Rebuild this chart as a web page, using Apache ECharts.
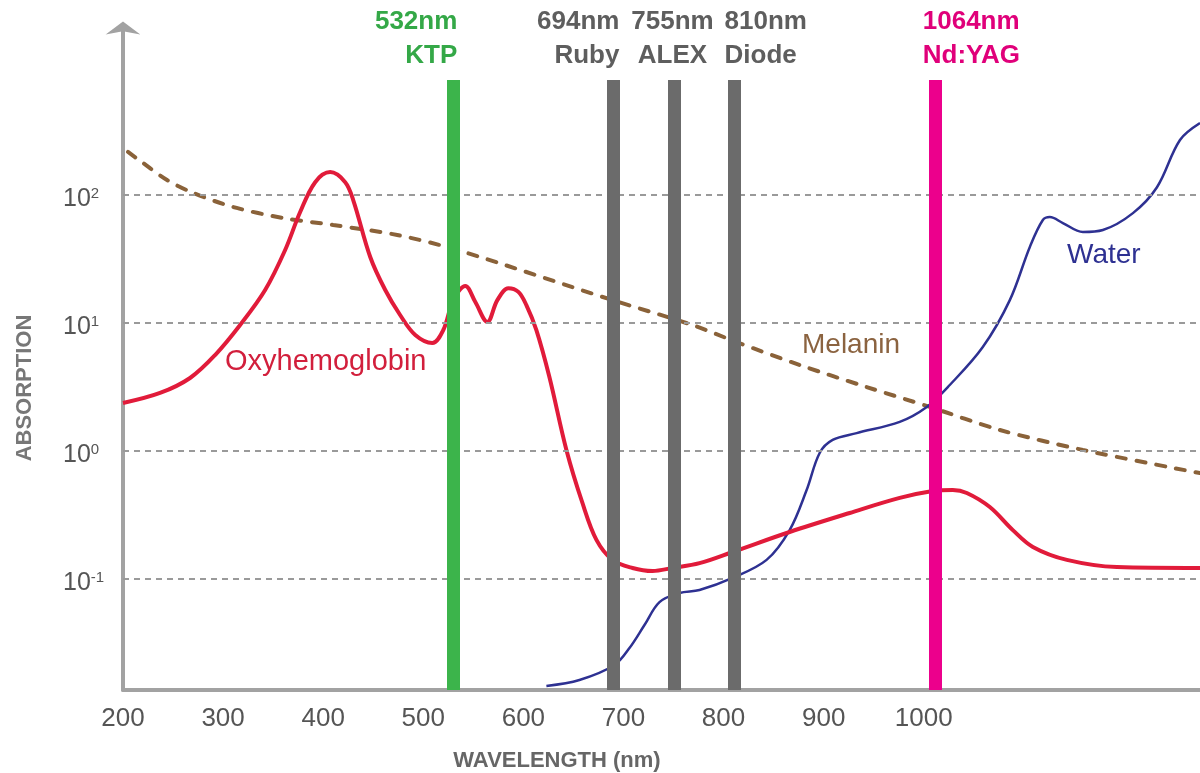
<!DOCTYPE html>
<html><head><meta charset="utf-8">
<script src="https://cdn.jsdelivr.net/npm/echarts@6/dist/echarts.min.js"></script>
<style>html,body{margin:0;padding:0;background:#fff}#c{width:1200px;height:773px}</style>
</head><body><div id="c"></div>
<script>
// ---- data ----
const oxyNm  = [200,237,267,292,317,342,362,377,392,407,422,430,447,462,477,492,509,520,530,542,552,564,574,585,595,603,613,626,643,659,673,689,709,729,749,776,809,866,926,976,1009,1029,1043,1066,1089,1109,1143,1193,1276];
const oxyAbs = [2.37,2.84,3.72,5.62,9.65,18.1,37.2,73.6,126,151,126,91.4,32.8,18.1,11.5,8.06,6.98,8.82,15.1,19.5,14.6,10.2,15.1,18.7,17.5,13.8,8.8,3.79,1.02,0.393,0.202,0.141,0.122,0.1155,0.122,0.133,0.1626,0.233,0.328,0.43,0.487,0.496,0.47,0.365,0.241,0.178,0.141,0.124,0.122];
const waterNm  = [623,656,691,706,721,736,756,776,809,843,866,883,896,909,933,976,1003,1026,1059,1086,1106,1119,1126,1139,1159,1179,1209,1233,1256,1276];
const waterAbs = [0.0146,0.01626,0.0213,0.0289,0.0437,0.066,0.0778,0.082,0.102,0.141,0.241,0.496,0.965,1.22,1.38,1.69,2.21,3.28,6.49,15.1,39.3,63.8,67.3,60.4,51.4,53.3,72.2,115,269,365];
const melaninNm  = [205,220,244,270,310,360,410,474,534,689,769,813,876,943,1006,1076,1159,1276];
const melaninAbs = [217,178,131,104,80.6,66.1,58.3,48.7,37.2,15.1,9.64,7.1,4.7,3.16,2.21,1.46,1.02,0.673];
const laserDrawnAt   = [530,690,751,811,1011];
const laserWavelength = ['532nm','694nm','755nm','810nm','1064nm'];
const laserName      = ['KTP','Ruby','ALEX','Diode','Nd:YAG'];
const gridPowers = [0.1,1,10,100];
const xTickMax = 1000;

// ---- layout / style ----
const X_MIN = 200, X_MAX = 1276, Y_MIN = 0.01358, Y_MAX = 2018, BAR_TOP = 791;
const laserColor = ['#3cb44b','#6b6b6b','#6b6b6b','#6b6b6b','#ec008c'];
const laserTextColor = ['#34a847','#5e5e5e','#5e5e5e','#5e5e5e','#e0007a'];
const laserAlign = ['right','right','center','left','left'];
const laserOffset = [[4,0],[6,0],[-2,0],[-10,0],[-12,0]];
const FONT = '"Liberation Sans", Arial, sans-serif';

const zip = (a,b) => a.map((v,i)=>[v,b[i]]);
const chart = echarts.init(document.getElementById('c'));
chart.setOption({
  animation:false,
  backgroundColor:'#fff',
  grid:{left:123,right:0,top:28,bottom:83},
  xAxis:{type:'value',min:X_MIN,max:X_MAX,interval:100,
    axisLine:{onZero:false,lineStyle:{color:'#a2a2a2',width:4}},
    axisTick:{show:false},splitLine:{show:false},
    axisLabel:{showMaxLabel:false,margin:16,fontSize:26,color:'#555',fontFamily:FONT,
      formatter:v=> v<=xTickMax ? String(v) : ''}},
  yAxis:{type:'log',logBase:10,min:Y_MIN,max:Y_MAX,
    axisLine:{show:true,onZero:false,symbol:['none','arrow'],symbolSize:[26,13],symbolOffset:[0,6.5],
      lineStyle:{color:'#a2a2a2',width:4}},
    axisTick:{show:false},splitLine:{show:false},
    axisLabel:{align:'left',margin:60,padding:[8,0,0,0],
      formatter:v=>{const l=Math.log10(v),p=Math.round(l);
        if(Math.abs(l-p)>1e-6||!gridPowers.some(g=>Math.abs(Math.log10(g)-p)<1e-6))return '';
        return '{b|10}{s|'+(p<0?'-'+(-p):p)+'}';},
      rich:{b:{fontSize:25,color:'#555',fontFamily:FONT},s:{fontSize:15,color:'#555',fontFamily:FONT,verticalAlign:'top'}}}},
  series:[
    {type:'line',name:'grid',data:[],z:1,silent:true,
      markLine:{silent:true,symbol:['none','none'],label:{show:false},
        lineStyle:{type:[6,5],color:'#9a9a9a',width:2},
        data:gridPowers.map(v=>({yAxis:v}))}},
    {type:'line',name:'lasers',data:[],z:2,silent:true,
      markLine:{silent:true,symbol:['none','none'],label:{show:false},
        data:laserDrawnAt.map((x,i)=>[{coord:[x,Y_MIN],lineStyle:{color:laserColor[i],width:13,type:'solid',opacity:1}},{coord:[x,BAR_TOP]}])}},
    {type:'scatter',name:'laserLabels',symbolSize:0,z:5,silent:true,itemStyle:{opacity:1},
      data:laserDrawnAt.map((x,i)=>({value:[x,BAR_TOP],
        label:{show:true,position:'top',distance:7,align:laserAlign[i],offset:laserOffset[i],
          formatter:laserWavelength[i]+'\n'+laserName[i],color:laserTextColor[i],opacity:1,
          fontSize:26,lineHeight:34,fontWeight:'bold',fontFamily:FONT}}))},
    {type:'line',name:'Melanin',data:zip(melaninNm,melaninAbs),smooth:0.3,showSymbol:false,z:3,
      lineStyle:{color:'#8a6239',width:4,type:[9,11],cap:'round'}},
    {type:'line',name:'Water',data:zip(waterNm,waterAbs),smooth:0.35,showSymbol:false,z:3,
      lineStyle:{color:'#2e3192',width:2.5}},
    {type:'line',name:'Oxyhemoglobin',data:zip(oxyNm,oxyAbs),smooth:0.35,showSymbol:false,z:4,
      lineStyle:{color:'#e11b3a',width:4}}
  ],
  graphic:[
    {type:'text',left:225,top:347,style:{text:'Oxyhemoglobin',fontSize:29,fill:'#d21f3c',fontFamily:FONT}},
    {type:'text',left:802,top:331,style:{text:'Melanin',fontSize:28,fill:'#8b6340',fontFamily:FONT}},
    {type:'text',left:1067,top:241,style:{text:'Water',fontSize:28,fill:'#2e3192',fontFamily:FONT}},
    {type:'text',x:25,y:388,rotation:Math.PI/2,style:{text:'ABSORPTION',fontSize:22,fontWeight:'bold',fill:'#777',fontFamily:FONT,align:'center',verticalAlign:'middle'}},
    {type:'text',x:557,y:761,style:{text:'WAVELENGTH (nm)',fontSize:22,fontWeight:'bold',fill:'#666',fontFamily:FONT,align:'center',verticalAlign:'middle'}}
  ]
});
</script></body></html>
